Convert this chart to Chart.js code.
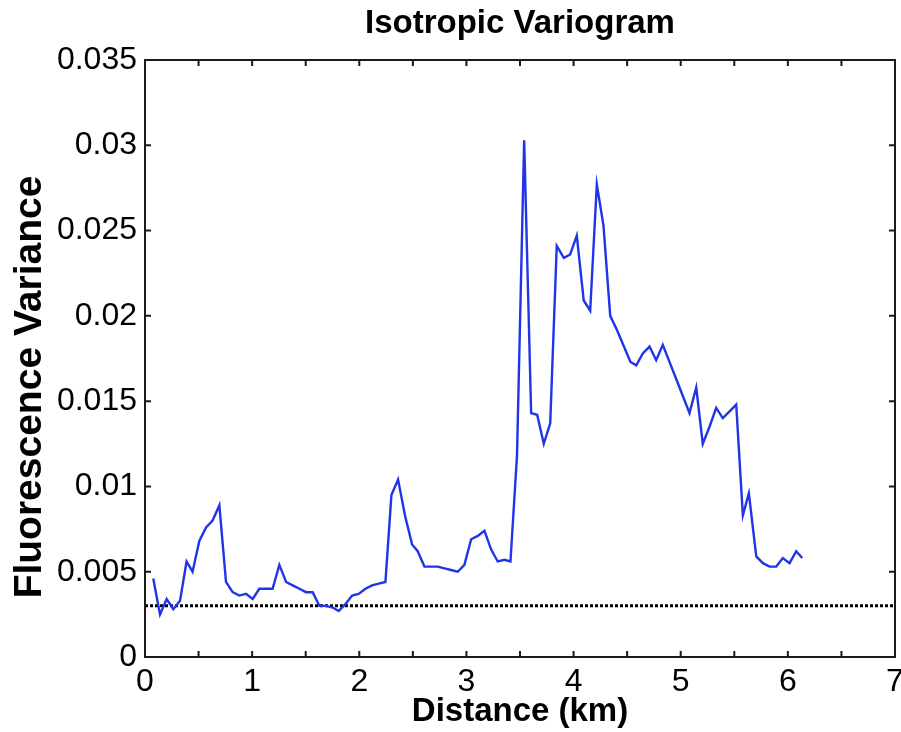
<!DOCTYPE html>
<html>
<head>
<meta charset="utf-8">
<script src="https://cdn.jsdelivr.net/npm/chart.js@4.4.1/dist/chart.umd.min.js"></script>
<style>
  html, body { margin: 0; padding: 0; background: #fff; }
  #wrap { width: 901px; height: 732px; }
</style>
</head>
<body>
<div id="wrap"><canvas id="variogram"></canvas></div>
<script>
// lag distance (km) and semivariance
const distanceKm = [
  0.077, 0.140, 0.202, 0.264, 0.327, 0.388, 0.444, 0.507, 0.570, 0.631,
  0.694, 0.756, 0.818, 0.880, 0.943, 1.005, 1.067, 1.130, 1.191, 1.254,
  1.317, 1.378, 1.441, 1.503, 1.565, 1.627, 1.690, 1.752, 1.808, 1.870,
  1.933, 1.994, 2.057, 2.120, 2.181, 2.244, 2.300, 2.362, 2.430, 2.493,
  2.545, 2.608, 2.670, 2.732, 2.795, 2.857, 2.919, 2.981, 3.044, 3.106,
  3.168, 3.231, 3.292, 3.355, 3.411, 3.472, 3.539, 3.604, 3.660, 3.722,
  3.782, 3.843, 3.909, 3.968, 4.030, 4.095, 4.155, 4.217, 4.279, 4.342,
  4.403, 4.531, 4.585, 4.646, 4.709, 4.771, 4.833, 4.895, 4.958, 5.020,
  5.082, 5.145, 5.206, 5.269, 5.331, 5.393, 5.456, 5.518, 5.580, 5.636,
  5.705, 5.767, 5.829, 5.892, 5.953, 6.016, 6.078, 6.134
];
const variance = [
  0.0046, 0.0025, 0.0034, 0.0028, 0.0033, 0.0056, 0.0050, 0.0068, 0.0076, 0.0080,
  0.0089, 0.0044, 0.0038, 0.0036, 0.0037, 0.0034, 0.0040, 0.0040, 0.0040, 0.0054,
  0.0044, 0.0042, 0.0040, 0.0038, 0.0038, 0.0030, 0.0030, 0.0029, 0.0027, 0.0031,
  0.0036, 0.0037, 0.0040, 0.0042, 0.0043, 0.0044, 0.0095, 0.0104, 0.0082, 0.0066,
  0.0062, 0.0053, 0.0053, 0.0053, 0.0052, 0.0051, 0.0050, 0.0054, 0.0069, 0.0071,
  0.0074, 0.0063, 0.0056, 0.0057, 0.0056, 0.0118, 0.0303, 0.0143, 0.0142, 0.0125,
  0.0137, 0.0241, 0.0234, 0.0236, 0.0247, 0.0209, 0.0203, 0.0277, 0.0253, 0.0200,
  0.0192, 0.0173, 0.0171, 0.0178, 0.0182, 0.0174, 0.0183, 0.0173, 0.0163, 0.0153,
  0.0143, 0.0158, 0.0125, 0.0135, 0.0146, 0.0140, 0.0144, 0.0148, 0.0083, 0.0096,
  0.0059, 0.0055, 0.0053, 0.0053, 0.0058, 0.0055, 0.0062, 0.0058
];
// dotted reference level (nugget / sample variance)
const refX = [0, 7];
const refY = [0.003, 0.003];

const xTicks = [0, 1, 2, 3, 4, 5, 6, 7];
const yTicks = [0, 0.005, 0.01, 0.015, 0.02, 0.025, 0.03, 0.035];

const FONT = "'Liberation Sans', Arial, Helvetica, sans-serif";

// matlab style box: frame on all four sides, ticks pointing inwards,
// title centred over the axes and y label placed like the original
const matlabBox = {
  id: 'matlabBox',
  afterDraw(chart) {
    const { ctx, chartArea: a, scales: { x, y } } = chart;
    ctx.save();
    ctx.strokeStyle = '#1a1a1a';
    ctx.lineWidth = 2;
    ctx.strokeRect(a.left, a.top, a.right - a.left, a.bottom - a.top);

    const len = 6;
    ctx.beginPath();
    for (let v = 0.5; v < 7; v += 0.5) {
      const px = x.getPixelForValue(v);
      ctx.moveTo(px, a.bottom); ctx.lineTo(px, a.bottom - len);
      ctx.moveTo(px, a.top); ctx.lineTo(px, a.top + len);
    }
    yTicks.slice(1, -1).forEach(v => {
      const py = y.getPixelForValue(v);
      ctx.moveTo(a.left, py); ctx.lineTo(a.left + len, py);
      ctx.moveTo(a.right, py); ctx.lineTo(a.right - len, py);
    });
    ctx.stroke();

    ctx.fillStyle = '#000';
    ctx.textAlign = 'center';
    ctx.textBaseline = 'middle';
    ctx.font = `bold 33px ${FONT}`;
    ctx.fillText('Isotropic Variogram', (a.left + a.right) / 2, 24);

    ctx.font = `bold 39px ${FONT}`;
    ctx.translate(30, 387);
    ctx.rotate(-Math.PI / 2);
    ctx.fillText('Fluorescence Variance', 0, 0);
    ctx.restore();
  }
};

new Chart(document.getElementById('variogram'), {
  type: 'line',
  data: {
    datasets: [
      {
        label: 'variogram',
        data: distanceKm.map((d, i) => ({ x: d, y: variance[i] })),
        borderColor: 'rgb(32, 52, 232)',
        borderWidth: 2.4,
        pointRadius: 0,
        tension: 0
      },
      {
        label: 'reference',
        data: refX.map((d, i) => ({ x: d, y: refY[i] })),
        borderColor: '#000',
        borderWidth: 3,
        borderDash: [3, 2],
        pointRadius: 0
      }
    ]
  },
  options: {
    responsive: true,
    maintainAspectRatio: false,
    animation: false,
    layout: { padding: { left: 0, right: 6, top: 60, bottom: 0 } },
    plugins: {
      legend: { display: false },
      tooltip: { enabled: false },
      title: { display: false }
    },
    scales: {
      x: {
        type: 'linear',
        min: 0,
        max: 7,
        afterBuildTicks: s => { s.ticks = xTicks.map(v => ({ value: v })); },
        afterFit: s => { s.height = 75; s.paddingLeft = 0; s.paddingRight = 0; },
        grid: { display: false, drawTicks: false },
        border: { display: false },
        ticks: {
          color: '#000',
          padding: 6,
          maxRotation: 0,
          font: { family: FONT, size: 32 }
        },
        title: {
          display: true,
          text: 'Distance (km)',
          color: '#000',
          font: { family: FONT, size: 33, weight: 'bold' },
          padding: { top: 0, bottom: 0 }
        }
      },
      y: {
        type: 'linear',
        min: 0,
        max: 0.035,
        afterBuildTicks: s => { s.ticks = yTicks.map(v => ({ value: v })); },
        afterFit: s => { s.width = 145; s.paddingTop = 0; s.paddingBottom = 0; },
        grid: { display: false, drawTicks: false },
        border: { display: false },
        ticks: {
          color: '#000',
          padding: 8,
          font: { family: FONT, size: 32 },
          callback: v => String(+v.toFixed(3))
        }
      }
    }
  },
  plugins: [matlabBox]
});
</script>
</body>
</html>
